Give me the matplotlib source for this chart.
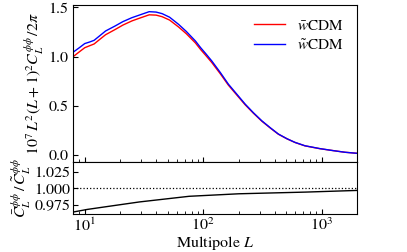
import numpy as np
import matplotlib
matplotlib.use("Agg")
import matplotlib.pyplot as plt

plt.rcParams['font.family'] = ['STIXGeneral', 'DejaVu Serif']
plt.rcParams['mathtext.fontset'] = 'stix'
plt.rcParams['font.size'] = 11.5

# lensing potential spectra
ell = [8, 9, 10, 11, 12, 13.5, 15, 18, 21, 25, 29, 35, 40, 45, 52, 62, 72,
       86, 95, 105, 118, 140, 163, 190, 226, 265, 312, 370, 431, 510, 596,
       722, 966, 1260, 1570, 2000]
cl_tilde = [1.045, 1.09, 1.132, 1.148, 1.165, 1.215, 1.26, 1.31, 1.355,
            1.395, 1.422, 1.456, 1.452, 1.436, 1.40, 1.327, 1.255, 1.158,
            1.091, 1.03, 0.956, 0.835, 0.72, 0.625, 0.517, 0.43, 0.348,
            0.275, 0.213, 0.165, 0.128, 0.094, 0.065, 0.044, 0.028, 0.017]
cl_bar = [1.0, 1.048, 1.09, 1.11, 1.128, 1.178, 1.222, 1.274, 1.32, 1.362,
          1.39, 1.424, 1.421, 1.405, 1.371, 1.30, 1.232, 1.138, 1.072, 1.012,
          0.94, 0.822, 0.71, 0.616, 0.51, 0.425, 0.344, 0.272, 0.211, 0.164,
          0.127, 0.093, 0.064, 0.044, 0.028, 0.017]

# ratio bar / tilde
ell_ratio = [8, 10.5, 15, 29, 76, 200, 730, 2000]
ratio = [0.9636, 0.9676, 0.9717, 0.9792, 0.9879, 0.9918, 0.9944, 0.997]

fig = plt.figure(figsize=(4.07, 2.52), dpi=100)
ax1 = fig.add_axes([0.180, 0.356, 0.698, 0.625])
ax2 = fig.add_axes([0.180, 0.152, 0.698, 0.204], sharex=ax1)

ax1.plot(ell, cl_bar, color='red', lw=1.0, label=r'$\bar{w}$CDM')
ax1.plot(ell, cl_tilde, color='blue', lw=1.0, label=r'$\tilde{w}$CDM')
ax1.set_xscale('log')
ax1.set_xlim(8, 2000)
ax1.set_ylim(-0.074, 1.526)
ax1.set_yticks([0.0, 0.5, 1.0, 1.5])
ax1.set_ylabel(r'$10^7\,L^2(L+1)^2C_L^{\phi\phi}\,/2\pi$', labelpad=2)
ax1.tick_params(which='both', direction='in', labelbottom=False)
ax1.legend(loc='upper right', frameon=False, fontsize=11,
           handlelength=2.0, borderaxespad=0.5, labelspacing=0.35)

ax2.plot(ell_ratio, ratio, color='black', lw=1.0)
ax2.axhline(1.0, color='black', ls=':', lw=0.9)
ax2.set_ylim(0.961, 1.0405)
ax2.set_yticks([0.975, 1.000, 1.025])
ax2.set_ylabel(r'$\bar{C}_L^{\phi\phi}\,/\,\tilde{C}_L^{\phi\phi}$', labelpad=1)
ax2.set_xlabel(r'Multipole $L$', labelpad=0)
ax2.tick_params(which='both', direction='in', pad=2)
ax2.tick_params(axis='x', pad=2)

fig.savefig('out.png', dpi=100)
